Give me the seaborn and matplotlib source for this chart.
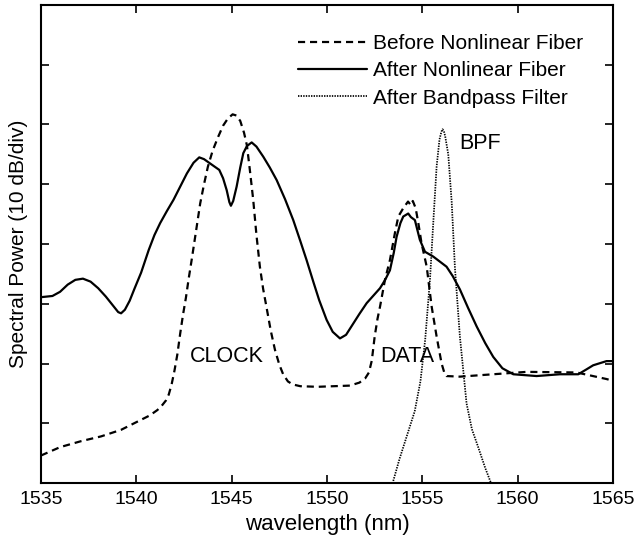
import matplotlib
matplotlib.use("Agg")
import matplotlib.pyplot as plt
import seaborn as sns
import pandas as pd

# --- data (y in dB, 10 dB/div) ---
before_x = [1535.0, 1536.0, 1537.1, 1538.15, 1539.2, 1540.2, 1540.7, 1541.1, 1541.3,
            1541.55, 1541.7, 1541.85, 1542.0, 1542.15, 1542.3, 1542.45, 1542.6, 1542.75,
            1542.9, 1543.1, 1543.35, 1543.55, 1543.75, 1544.0, 1544.3, 1544.55, 1544.8,
            1545.05, 1545.25, 1545.45, 1545.65, 1545.8, 1545.95, 1546.13, 1546.3, 1546.48,
            1546.65, 1546.84, 1547.05, 1547.27, 1547.5, 1547.7, 1547.95, 1548.2, 1548.6,
            1549.5, 1551.2, 1551.7, 1552.0, 1552.2, 1552.35, 1552.5, 1552.65, 1552.78,
            1553.04, 1553.3, 1553.56, 1553.74, 1554.0, 1554.25, 1554.4, 1554.5, 1554.65,
            1554.79, 1554.96, 1555.23, 1555.49, 1555.75, 1556.01, 1556.15, 1556.27,
            1556.97, 1558.72, 1560.47, 1563.09, 1564.66, 1565.0]
before_y = [4.6, 6.0, 7.0, 7.8, 8.9, 10.5, 11.3, 12.2, 12.8,
            13.8, 14.8, 16.5, 18.8, 21.5, 25.0, 28.2, 31.0, 34.3,
            37.3, 41.5, 46.8, 50.0, 52.9, 55.6, 58.0, 59.8, 61.0,
            61.7, 61.5, 60.6, 58.6, 56.5, 52.5, 47.4, 41.5, 36.2,
            32.5, 29.2, 25.5, 22.3, 19.8, 18.2, 17.0, 16.5, 16.2,
            16.1, 16.3, 16.8, 17.5, 18.5, 20.5, 24.5, 27.5, 29.5,
            34.0, 37.3, 41.8, 44.6, 46.0, 47.1, 46.5, 47.2, 46.0,
            43.5, 40.1, 36.2, 29.5, 24.5, 20.0, 18.5, 17.9,
            17.8, 18.2, 18.6, 18.5, 17.4, 17.1]

after_x = [1535.0, 1535.6, 1536.0, 1536.4, 1536.8, 1537.2, 1537.6, 1538.0, 1538.4,
           1538.8, 1539.05, 1539.2, 1539.4, 1539.65, 1539.9, 1540.25, 1540.65, 1540.95,
           1541.25, 1541.6, 1541.95, 1542.3, 1542.65, 1543.0, 1543.3, 1543.55, 1543.86,
           1544.35, 1544.55, 1544.74, 1544.88, 1544.96, 1545.08, 1545.26, 1545.45,
           1545.61, 1545.8, 1546.05, 1546.3, 1546.66, 1547.0, 1547.36, 1547.8, 1548.23,
           1548.6, 1548.93, 1549.3, 1549.59, 1549.98, 1550.3, 1550.68, 1551.0, 1551.38,
           1551.7, 1552.08, 1552.78, 1553.05, 1553.3, 1553.5, 1553.65, 1553.85, 1554.0,
           1554.26, 1554.4, 1554.61, 1554.87, 1555.14, 1555.57, 1555.9, 1556.27, 1556.6,
           1556.97, 1557.4, 1557.85, 1558.3, 1558.72, 1559.2, 1559.77, 1560.99, 1562.22,
           1563.18, 1563.6, 1563.96, 1564.66, 1565.0]
after_y = [31.1, 31.3, 32.0, 33.2, 34.0, 34.2, 33.7, 32.6, 31.2,
           29.6, 28.6, 28.4, 29.0, 30.5, 32.5, 35.2, 39.0, 41.5,
           43.5, 45.5, 47.4, 49.6, 51.8, 53.6, 54.5, 54.2, 53.5,
           52.4, 51.0, 49.0, 47.0, 46.4, 47.2, 49.6, 52.8,
           55.2, 56.4, 57.0, 56.3, 54.6, 52.8, 50.7, 47.5, 44.0,
           40.5, 37.3, 33.5, 30.6, 27.3, 25.3, 24.2, 24.8, 26.7,
           28.3, 30.1, 32.6, 34.0, 35.6, 38.5, 41.2, 43.5, 44.6,
           45.1, 44.5, 44.0, 40.7, 38.7, 37.9, 37.1, 36.2, 34.6,
           32.4, 29.3, 26.2, 23.4, 21.1, 19.2, 18.2, 17.9, 18.2,
           18.2, 19.0, 19.7, 20.4, 20.4]

bpf_x = [1553.4, 1553.8, 1554.2, 1554.6, 1554.9, 1555.15, 1555.4, 1555.6, 1555.75,
         1555.9, 1556.0, 1556.06, 1556.13, 1556.2, 1556.36, 1556.54, 1556.71, 1556.97,
         1557.32, 1557.6, 1557.93, 1558.3, 1558.6, 1558.8]
bpf_y = [-0.5, 4.0, 8.0, 12.0, 17.0, 24.0, 34.0, 45.0, 53.0,
         57.5, 58.8, 59.2, 58.9, 58.0, 55.0, 47.0, 36.0, 24.5,
         13.3, 9.0, 6.0, 2.5, 0.0, -2.0]

labels = ["Before Nonlinear Fiber", "After Nonlinear Fiber", "After Bandpass Filter"]
x_ticks = [1535, 1540, 1545, 1550, 1555, 1560, 1565]
y_ticks = [10, 20, 30, 40, 50, 60, 70]

sns.set_style("ticks")
plt.rcParams['font.family'] = ['Liberation Sans', 'DejaVu Sans']
plt.rcParams['text.color'] = 'black'
plt.rcParams['axes.labelcolor'] = 'black'

fig = plt.figure(figsize=(6.34, 5.44), dpi=100)
ax = fig.add_axes([41/634, 1-483/544, (613-41)/634, (483-5)/544])

df_b = pd.DataFrame({"x": before_x, "y": before_y})
df_a = pd.DataFrame({"x": after_x, "y": after_y})
df_f = pd.DataFrame({"x": bpf_x, "y": bpf_y})

sns.lineplot(data=df_b, x="x", y="y", ax=ax, color="black", lw=1.6,
             label=labels[0], sort=False, estimator=None)
sns.lineplot(data=df_a, x="x", y="y", ax=ax, color="black", lw=1.6,
             label=labels[1], sort=False, estimator=None)
sns.lineplot(data=df_f, x="x", y="y", ax=ax, color="black", lw=1.25,
             label=labels[2], sort=False, estimator=None)
lines = ax.get_lines()
lines[0].set_dashes((3.2, 2.2))
lines[2].set_dashes((0.8, 0.7))
for ln in lines:
    ln.set_solid_joinstyle("round")
    ln.set_dash_joinstyle("round")

ax.set_xlim(1535, 1565)
ax.set_ylim(0, 80)
ax.set_xticks(x_ticks)
ax.set_yticks(y_ticks)
ax.set_yticklabels([])
ax.tick_params(direction="in", length=6, width=1.2, top=True, right=True,
               labelsize=14, pad=6, colors="black")
for s in ax.spines.values():
    s.set_linewidth(1.5)
    s.set_color("black")

ax.set_xlabel("wavelength (nm)", fontsize=16, labelpad=4)
ax.set_ylabel("Spectral Power (10 dB/div)", fontsize=15, labelpad=3)

ax.text(1544.75, 21.2, "CLOCK", fontsize=15.5, ha="center", va="center")
ax.text(1554.2, 21.2, "DATA", fontsize=15.5, ha="center", va="center")
ax.text(1558.05, 56.9, "BPF", fontsize=15.5, ha="center", va="center")

leg = ax.legend(loc="upper right", frameon=False, fontsize=15, handlelength=3.3,
                handletextpad=0.3, labelspacing=0.4, borderaxespad=0.0,
                bbox_to_anchor=(0.962, 0.957))

fig.savefig("out.png", dpi=100)
